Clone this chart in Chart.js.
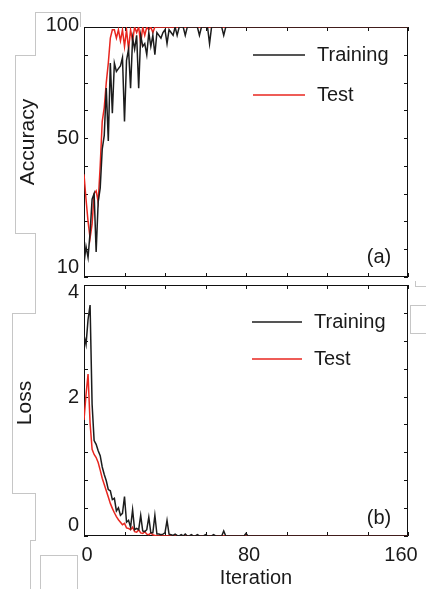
<!DOCTYPE html>
<html>
<head>
<meta charset="utf-8">
<script src="https://cdn.jsdelivr.net/npm/chart.js@4.4.1/dist/chart.umd.min.js"></script>
<style>
  html, body { margin: 0; padding: 0; background: #fff; }
  #wrap { position: relative; width: 426px; height: 589px; overflow: hidden; }
  #wrap canvas { position: absolute; left: 0; top: 0; }
  .scrap { position: absolute; box-sizing: border-box; border: 0 solid #c6c6c6; }
</style>
</head>
<body>
<div id="wrap">
  <!-- faint paste-up outlines from the scanned figure -->
  <div class="scrap" style="left:35px;top:12px;width:46px;height:15px;border-top-width:1px;border-right-width:1px"></div>
  <div class="scrap" style="left:35px;top:12px;width:1px;height:44px;border-left-width:1px"></div>
  <div class="scrap" style="left:15px;top:55px;width:21px;height:179px;border-width:1px 0 1px 1px"></div>
  <div class="scrap" style="left:35px;top:233px;width:1px;height:81px;border-left-width:1px"></div>
  <div class="scrap" style="left:12px;top:313px;width:24px;height:181px;border-width:1px 0 1px 1px"></div>
  <div class="scrap" style="left:35px;top:493px;width:1px;height:48px;border-left-width:1px"></div>
  <div class="scrap" style="left:30px;top:540px;width:6px;height:49px;border-width:1px 0 0 1px"></div>
  <div class="scrap" style="left:40px;top:555px;width:38px;height:34px;border-width:1px 1px 0 1px"></div>
  <div class="scrap" style="left:410px;top:305px;width:16px;height:29px;border-width:1px 0 1px 1px"></div>
  <div class="scrap" style="left:415px;top:281px;width:11px;height:6px;border-width:0 0 1px 1px"></div>
  <canvas id="chart-acc" width="426" height="589"></canvas>
  <canvas id="chart-loss" width="426" height="589"></canvas>
</div>
<script>
const ITER = [
  0, 1, 2, 3, 4, 5, 6, 7, 8, 9,
  10, 11, 12, 13, 14, 15, 16, 17, 18, 19,
  20, 21, 22, 23, 24, 25, 26, 27, 28, 29,
  30, 31, 32, 33, 34, 35, 36, 37, 38, 39,
  40, 41, 42, 43, 44, 45, 46, 47, 48, 49,
  50, 51, 52, 53, 54, 55, 56, 57, 58, 59,
  60, 61, 62, 63, 64, 65, 66, 67, 68, 69,
  70, 71, 72, 73, 74, 75, 76, 77, 78, 79,
  80, 81, 82, 160,
];

const ACC_TRAIN = [
  15, 21, 17, 26, 38, 40, 19, 37, 42, 56,
  61, 78, 59, 87, 69, 87, 84, 85, 86, 89,
  66, 88, 92, 78, 96, 92, 97, 78, 97, 93,
  94, 90, 98, 93, 97, 90, 98, 97, 96, 98,
  99, 94, 99, 98, 97, 100, 97, 100, 100, 100,
  97, 100, 100, 100, 100, 100, 100, 97, 100, 100,
  100, 100, 94, 100, 100, 100, 100, 100, 100, 97,
  100, 100, 100, 100, 100, 100, 100, 100, 100, 100,
  100, 100, 100, 100,
];

const ACC_TEST = [
  47, 38, 30, 24, 29, 40, 41, 37, 50, 66,
  71, 80, 87, 96, 99, 99, 96, 99, 95, 99,
  93, 99, 92, 99, 95, 100, 98, 100, 94, 100,
  97, 100, 99, 100, 98, 100, 100, 100, 100, 100,
  100, 100, 100, 100, 100, 100, 100, 100, 100, 100,
  100, 100, 100, 100, 100, 100, 100, 100, 100, 100,
  100, 100, 100, 100, 100, 100, 100, 100, 100, 100,
  100, 100, 100, 100, 100, 100, 100, 100, 100, 100,
  100, 100, 100, 100,
];

const LOSS_TRAIN = [
  3.2, 3.05, 3.45, 3.68, 2.1, 1.52, 1.46, 1.36, 1.28, 1.1,
  0.98, 0.88, 0.74, 0.72, 0.58, 0.6, 0.4, 0.45, 0.33, 0.36,
  0.63, 0.22, 0.25, 0.14, 0.42, 0.1, 0.12, 0.1, 0.33, 0.08,
  0.07, 0.1, 0.3, 0.05, 0.05, 0.33, 0.03, 0.03, 0.02, 0.03,
  0.05, 0.25, 0.03, 0.02, 0.01, 0.03, 0.01, 0, 0.02, 0,
  0.03, 0, 0, 0.02, 0, 0, 0.02, 0, 0, 0,
  0.02, 0, 0, 0, 0.02, 0, 0, 0, 0, 0.08,
  0, 0, 0, 0, 0, 0, 0, 0, 0, 0,
  0.04, 0, 0, 0,
];

const LOSS_TEST = [
  1.85, 2.25, 2.58, 1.8, 1.38, 1.3, 1.25, 1.17, 1.05, 0.92,
  0.82, 0.72, 0.62, 0.52, 0.44, 0.37, 0.31, 0.26, 0.22, 0.18,
  0.2, 0.13, 0.12, 0.1, 0.14, 0.07, 0.06, 0.1, 0.05, 0.04,
  0.07, 0.03, 0.02, 0.05, 0.02, 0.01, 0, 0, 0, 0,
  0, 0, 0, 0, 0, 0, 0, 0, 0, 0,
  0, 0, 0, 0, 0, 0, 0, 0, 0, 0,
  0, 0, 0, 0, 0, 0, 0, 0, 0, 0,
  0, 0, 0, 0, 0, 0, 0, 0, 0, 0,
  0, 0, 0, 0,
];

// tick marks and their labels ('' = unlabelled tick)
const X_TICKS = [0, 20, 40, 60, 80, 100, 120, 140, 160];
const X_LABELS = ['0', '', '', '', '80', '', '', '', '160'];
const ACC_TICKS = [10, 20, 30, 40, 50, 60, 70, 80, 90, 100];
const ACC_LABELS = ['10', '', '', '', '', '50', '', '', '', '100'];
const LOSS_TICKS = [0, 0.444, 0.889, 1.333, 1.778, 2.222, 2.667, 3.111, 3.556, 4];
const LOSS_LABELS = ['0', '', '', '', '', '2', '', '', '', '4'];

const SERIES_NAMES = ['Training', 'Test'];
const COLORS = ['#1c1c1c', '#e8261f'];
const FONT = '"Liberation Sans", Arial, Helvetica, sans-serif';

function points(ys) {
  return ITER.map((x, i) => ({ x, y: ys[i] }));
}

function panelPlugin(p) {
  return {
    id: 'panelDeco',
    beforeDatasetsDraw(chart) {
      const { ctx, chartArea: a, scales } = chart;
      ctx.save();
      ctx.strokeStyle = '#111';
      ctx.lineWidth = 1;
      ctx.strokeRect(Math.round(a.left) + 0.5, Math.round(a.top) + 0.5,
        Math.round(a.right - a.left) - 1, Math.round(a.bottom - a.top) - 1);
      ctx.beginPath();
      for (const v of X_TICKS) {
        const px = Math.round(scales.x.getPixelForValue(v)) + 0.5;
        ctx.moveTo(px, a.bottom); ctx.lineTo(px, a.bottom - 4);
        ctx.moveTo(px, a.top); ctx.lineTo(px, a.top + 4);
      }
      for (const v of p.yTicks) {
        const py = Math.round(scales.y.getPixelForValue(v)) + 0.5;
        ctx.moveTo(a.left, py); ctx.lineTo(a.left + 4, py);
        ctx.moveTo(a.right, py); ctx.lineTo(a.right - 4, py);
      }
      ctx.stroke();
      ctx.restore();
    },
    afterDatasetsDraw(chart) {
      const { ctx, chartArea: a, scales } = chart;
      ctx.save();
      ctx.fillStyle = '#1a1a1a';
      ctx.font = `20px ${FONT}`;

      // y tick labels
      ctx.textAlign = 'right';
      ctx.textBaseline = 'middle';
      p.yTicks.forEach((v, i) => {
        const t = p.yLabels[i];
        if (!t) return;
        ctx.fillText(t, a.left - 5, scales.y.getPixelForValue(v) + (p.yNudge[t] || 0));
      });

      // x tick labels (bottom panel only)
      if (p.xLabels) {
        ctx.textAlign = 'center';
        X_TICKS.forEach((v, i) => {
          const t = p.xLabels[i];
          if (!t) return;
          ctx.fillText(t, scales.x.getPixelForValue(v) + (p.xNudge[t] || 0), 555);
        });
        ctx.fillText('Iteration', 256, 578);
      }

      // legend
      chart.data.datasets.forEach((ds, i) => {
        const y = p.legendY[i];
        ctx.strokeStyle = ds.borderColor;
        ctx.lineWidth = 1.6;
        ctx.beginPath();
        ctx.moveTo(p.legendX[0], y);
        ctx.lineTo(p.legendX[1], y);
        ctx.stroke();
        ctx.textAlign = 'left';
        ctx.fillText(ds.label, p.legendX[2], y);
      });

      // panel tag
      ctx.textAlign = 'center';
      ctx.fillText(p.tag, 379, p.tagY);

      // y title
      ctx.save();
      ctx.font = `21px ${FONT}`;
      ctx.translate(p.titleX, p.titleY);
      ctx.rotate(-Math.PI / 2);
      ctx.fillText(p.title, 0, 0);
      ctx.restore();

      ctx.restore();
    },
  };
}

function makePanel(id, ys, yMin, yMax, padding, deco) {
  return new Chart(document.getElementById(id), {
    type: 'line',
    data: {
      datasets: ys.map((arr, i) => ({
        label: SERIES_NAMES[i],
        data: points(arr),
        borderColor: COLORS[i],
        borderWidth: 1.5,
        pointRadius: 0,
        tension: 0,
      })),
    },
    options: {
      responsive: false,
      animation: false,
      devicePixelRatio: 1,
      layout: { padding },
      scales: {
        x: { type: 'linear', min: 0, max: 160, display: false },
        y: { type: 'linear', min: yMin, max: yMax, display: false },
      },
      plugins: { legend: { display: false }, tooltip: { enabled: false } },
    },
    plugins: [panelPlugin(deco)],
  });
}

makePanel('chart-acc', [ACC_TRAIN, ACC_TEST], 10, 100,
  { left: 84, top: 27, right: 18, bottom: 312 },
  {
    yTicks: ACC_TICKS, yLabels: ACC_LABELS, yNudge: { '100': -2, '10': -10 },
    xLabels: null,
    legendY: [55, 95], legendX: [253, 305, 317],
    tag: '(a)', tagY: 257,
    title: 'Accuracy', titleX: 28, titleY: 142,
  });

makePanel('chart-loss', [LOSS_TRAIN, LOSS_TEST], 0, 4,
  { left: 84, top: 285, right: 18, bottom: 53 },
  {
    yTicks: LOSS_TICKS, yLabels: LOSS_LABELS, yNudge: { '4': 7, '2': 1, '0': -11 },
    xLabels: X_LABELS, xNudge: { '0': 3, '80': 3, '160': -7 },
    legendY: [322, 359], legendX: [252, 302, 314],
    tag: '(b)', tagY: 518,
    title: 'Loss', titleX: 25, titleY: 403,
  });
</script>
</body>
</html>
